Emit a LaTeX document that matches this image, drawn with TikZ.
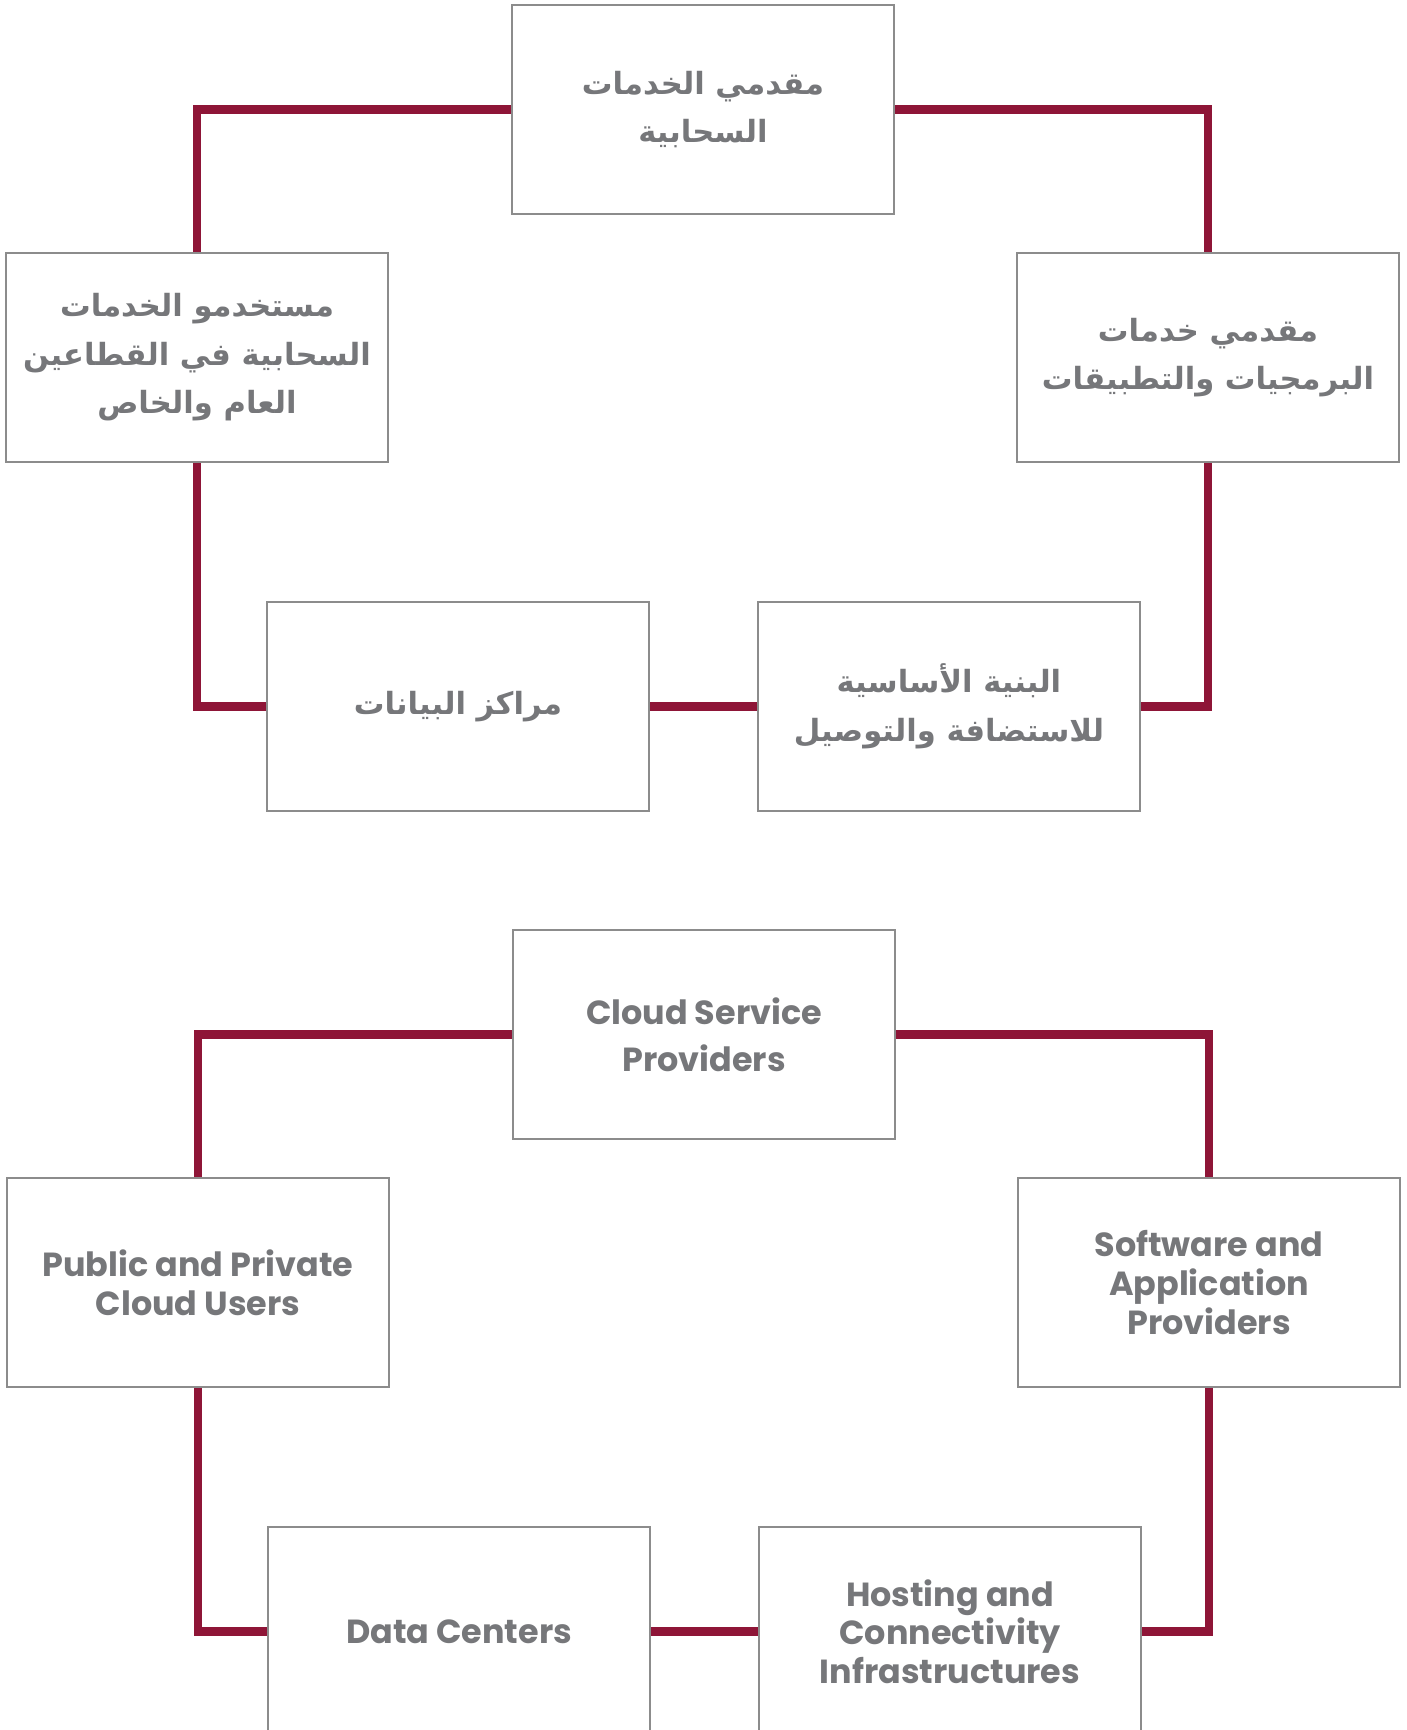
\documentclass[tikz,border=0pt]{standalone}
\usepackage{fontspec}
\setmainfont{Poppins}
\newfontfamily\arabicfont[Script=Arabic]{DejaVu Sans}
\TeXXeTstate=1
\definecolor{wine}{HTML}{8E1537}
\definecolor{frame}{HTML}{8C8C8C}
\definecolor{ink}{HTML}{76777A}

\begin{document}
\begin{tikzpicture}[x=0.01cm, y=-0.01cm,
    box/.style={draw=frame, line width=0.6pt, minimum width=3.82cm, minimum height=2.09cm,
        inner sep=0pt, align=center, text=ink, font=\bfseries\fontsize{9.5}{11}\selectfont},
    arbox/.style={box, font=\arabicfont\bfseries\fontsize{8.7}{13.8}\selectfont},
    link/.style={draw=wine, line width=2.3pt}]
    \def\dy{925}
    \useasboundingbox (0, 0) rectangle (1407, 1730);

    \node[arbox] (cspAr) at (703, 109.5) {\beginR مقدمي الخدمات\endR\\\beginR السحابية\endR};
    \node[arbox] (usersAr) at (197, 357.5) {\beginR مستخدمو الخدمات\endR\\\beginR السحابية في القطاعين\endR\\\beginR العام والخاص\endR};
    \node[arbox] (softAr) at (1208, 357.5) {\beginR مقدمي خدمات\endR\\\beginR البرمجيات والتطبيقات\endR};
    \node[arbox] (dcAr) at (458, 706.5) {\beginR مراكز البيانات\endR};
    \node[arbox] (hostAr) at (949, 706.5) {\beginR البنية الأساسية\endR\\\beginR للاستضافة والتوصيل\endR};

    \draw[link] (cspAr.west) -| (usersAr.north);
    \draw[link] (cspAr.east) -| (softAr.north);
    \draw[link] (usersAr.south) |- (dcAr.west);
    \draw[link] (dcAr.east) -- (hostAr.west);
    \draw[link] (hostAr.east) -| (softAr.south);

    \node[box] (csp) at (704, 109.5 + \dy) {Cloud Service\\[2.5pt]Providers};
    \node[box] (users) at (198, 357.5 + \dy) {Public and Private\\Cloud Users};
    \node[box] (soft) at (1209, 357.5 + \dy) {Software and\\Application\\Providers};
    \node[box] (dc) at (459, 706.5 + \dy) {Data Centers};
    \node[box] (host) at (950, 706.5 + \dy) {Hosting and\\Connectivity\\Infrastructures};

    \draw[link] (csp.west) -| (users.north);
    \draw[link] (csp.east) -| (soft.north);
    \draw[link] (users.south) |- (dc.west);
    \draw[link] (dc.east) -- (host.west);
    \draw[link] (host.east) -| (soft.south);
\end{tikzpicture}
\end{document}
